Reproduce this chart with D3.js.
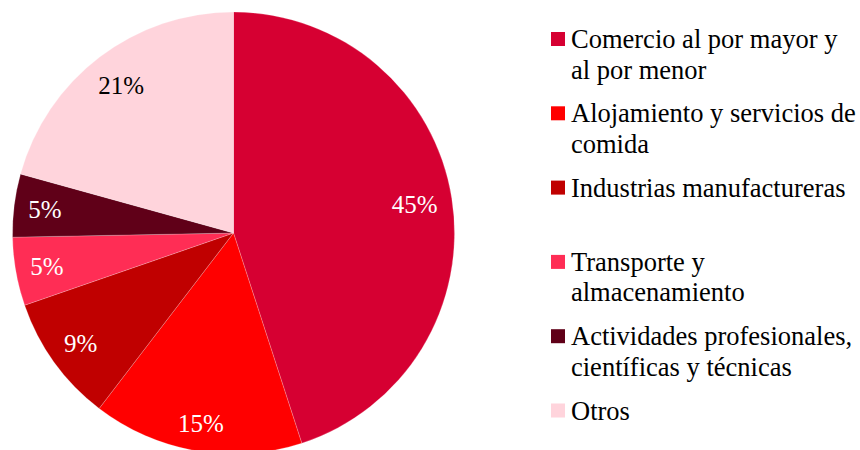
<!DOCTYPE html>
<html>
<head>
<meta charset="utf-8">
<script src="https://cdn.jsdelivr.net/npm/d3@7"></script>
<style>
  html, body { margin: 0; padding: 0; background: #fff; }
  svg text { font-family: 'Liberation Serif', 'Times New Roman', Times, serif; }
</style>
</head>
<body>
<div id="chart"></div>
<script>
/* sector shares — pie with inside-end labels and right-hand legend */
const CATEGORIES = [
  'Comercio al por mayor y\nal por menor',
  'Alojamiento y servicios de\ncomida',
  'Industrias manufactureras',
  'Transporte y\nalmacenamiento',
  'Actividades profesionales,\ncientíficas y técnicas',
  'Otros'
];
const SHARES = [45.0, 15.4, 9.3, 5.0, 4.6, 20.7];
const COLORS = ['#D60032', '#FF0000', '#C00000', '#FF2D55', '#600018', '#FFD4DC'];
const LABEL_INK = ['#fff', '#fff', '#fff', '#fff', '#fff', '#000'];

const W = 860, H = 450;
const CX = 233.5, CY = 233, R = 221;
const FS_PIE = 25, FS_LEG = 26.5;

const data = CATEGORIES.map((c, i) => ({ name: c, value: SHARES[i], color: COLORS[i], ink: LABEL_INK[i] }));

const svg = d3.select('#chart').append('svg')
  .attr('width', W).attr('height', H)
  .attr('viewBox', `0 0 ${W} ${H}`);

const pie = d3.pie().value((d) => d.value).sort(null);
const arc = d3.arc().innerRadius(0).outerRadius(R);
const arcs = pie(data);

const g = svg.append('g').attr('transform', `translate(${CX},${CY})`);

g.selectAll('path').data(arcs).join('path')
  .attr('d', arc)
  .attr('fill', (d) => d.data.color)
  .attr('stroke', '#fff')
  .attr('stroke-opacity', 0.35)
  .attr('stroke-width', 0.6);

/* labels: push the text box outward along the mid-angle until its far corner meets R - pad */
const PAD = 13;
const labels = g.selectAll('text.lbl').data(arcs).join('text')
  .attr('class', 'lbl')
  .attr('text-anchor', 'middle')
  .attr('dominant-baseline', 'central')
  .attr('font-size', FS_PIE)
  .attr('fill', (d) => d.data.ink)
  .text((d) => Math.round(d.data.value) + '%');

labels.each(function (d) {
  const bb = this.getBBox();
  const hw = bb.width / 2, hh = bb.height / 2 * 0.75;
  const a = (d.startAngle + d.endAngle) / 2;
  const ux = Math.sin(a), uy = -Math.cos(a);
  let t = 0;
  for (let s = 0; s < R; s += 0.5) {
    const fx = Math.abs(s * ux) + hw, fy = Math.abs(s * uy) + hh;
    if (Math.hypot(fx, fy) > R - PAD) break;
    t = s;
  }
  d3.select(this).attr('x', t * ux).attr('y', t * uy);
});

/* legend — items equally spaced, names wrap on their own breaks */
const LX = 551, LY0 = 48, STEP = 74.3, LINE = 30.5, BOX = 14;
const leg = svg.append('g').selectAll('g').data(data).join('g')
  .attr('transform', (d, i) => `translate(${LX},${LY0 + i * STEP})`);

leg.append('rect')
  .attr('x', 0).attr('y', -BOX - 2)
  .attr('width', BOX).attr('height', BOX)
  .attr('fill', (d) => d.color);

leg.append('text')
  .attr('x', 20)
  .attr('font-size', FS_LEG)
  .attr('fill', '#000')
  .selectAll('tspan').data((d) => d.name.split('\n')).join('tspan')
  .attr('x', 20)
  .attr('y', (d, i) => i * LINE)
  .text((d) => d);
</script>
</body>
</html>
